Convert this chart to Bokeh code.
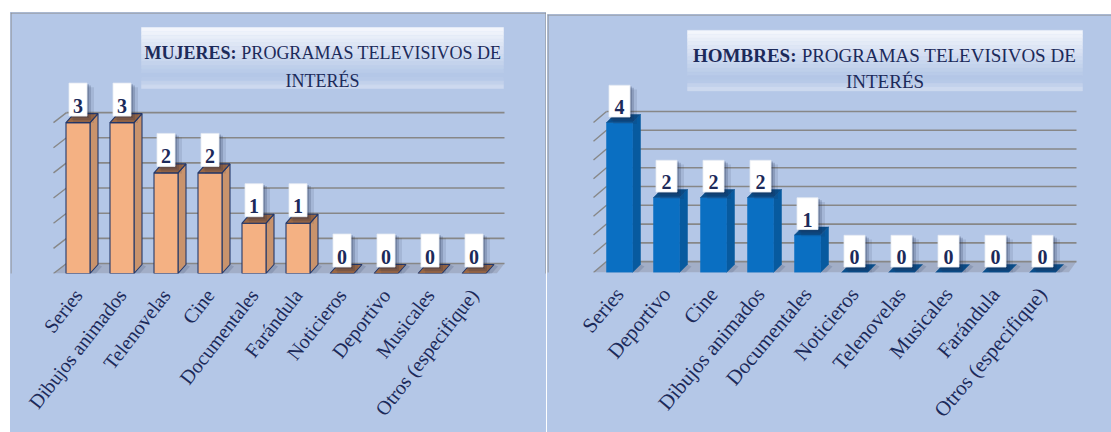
import numpy as np
from bokeh.plotting import figure
from bokeh.layouts import row, column
from bokeh.models import Range1d, FixedTicker, Spacer
from bokeh.core.properties import value
from bokeh.embed import file_html
from bokeh.resources import INLINE

# ---------------- data ----------------
cats_mujeres = ["Series", "Dibujos animados", "Telenovelas", "Cine", "Documentales",
                "Farándula", "Noticieros", "Deportivo", "Musicales", "Otros (especifique)"]
vals_mujeres = [3, 3, 2, 2, 1, 1, 0, 0, 0, 0]
grid_mujeres = [0, 0.5, 1, 1.5, 2, 2.5, 3]

cats_hombres = ["Series", "Deportivo", "Cine", "Dibujos animados", "Documentales",
                "Noticieros", "Telenovelas", "Musicales", "Farándula", "Otros (especifique)"]
vals_hombres = [4, 2, 2, 2, 1, 0, 0, 0, 0, 0]
grid_hombres = [0, 0.5, 1, 1.5, 2, 2.5, 3, 3.5, 4]

title_rest = "PROGRAMAS TELEVISIVOS DE"
title_line2 = "INTERÉS"

# ---------------- style ----------------
BG = "#b4c7e7"
NAVY = "#1c2a5a"
SERIF = "Liberation Serif"

cfg_m = dict(ox=10, oy=12, W=536, H=420, base=273, S=44.0, c0=77.5, ppy=50.3,
             bar_w=24, depth=(8, 9), wall=(13, 10), wall_left=53, wall_right=504,
             box_w=18, box_h=33, digit_off=10.5, right_border=True,
             front="#f4b183", side="#c9936c", top="#9c6844", outline="#22376a",
             tbox=(141, 27, 503, 88), tsplit=236, tcenter=322, tbase=(52, 80), tsize=18,
             title_bold="MUJERES:", lab_size=20, lab_angle=0.91, standoff=12)
cfg_h = dict(ox=547, oy=14, W=564, H=418, base=274, S=47.0, c0=619, ppy=37.8,
             bar_w=26, depth=(8, 8), wall=(13, 11), wall_left=593, wall_right=1076,
             box_w=21, box_h=32, digit_off=10, right_border=False,
             front="#0a6fc2", side="#075a9f", top="#0a4f8c", outline=None,
             tbox=(687, 30, 1082, 91), tsplit=796, tcenter=884.5, tbase=(55, 82), tsize=19,
             title_bold="HOMBRES:", lab_size=21, lab_angle=0.87, standoff=12)


def mix(c1, c2, t):
    a = [int(c1[i:i + 2], 16) for i in (1, 3, 5)]
    b = [int(c2[i:i + 2], 16) for i in (1, 3, 5)]
    return "#%02x%02x%02x" % tuple(int(round(a[k] + (b[k] - a[k]) * t)) for k in range(3))


def panel(cats, vals, grid_vals, c):
    ox, oy, W, H = c["ox"], c["oy"], c["W"], c["H"]
    S, c0, ppy, base = c["S"], c["c0"], c["ppy"], c["base"]

    def X(px):
        return (px - c0) / S

    def Y(py):
        return (base - py) / ppy

    def DX(d):
        return d / S

    def DY(d):
        return d / ppy

    p = figure(width=W, height=H, output_backend="svg", toolbar_location=None,
               x_range=Range1d(X(ox), X(ox + W)), y_range=Range1d(0, Y(oy)),
               min_border_left=0, min_border_right=0, min_border_top=0,
               min_border_bottom=H - (base - oy),
               background_fill_color=BG, border_fill_color=BG, outline_line_color=None,
               styles={"background-color": BG})
    p.grid.visible = False
    p.yaxis.visible = False

    n = len(cats)
    xs = np.arange(n, dtype=float)
    v = np.array(vals, dtype=float)

    # panel border (left, top, right edges)
    bx = [[X(ox + 0.5), X(ox + 0.5)], [X(ox), X(ox + W)]]
    by = [[-5, Y(oy)], [Y(oy + 0.5), Y(oy + 0.5)]]
    if c["right_border"]:
        bx.append([X(ox + W - 0.5), X(ox + W - 0.5)])
        by.append([-5, Y(oy)])
    p.multi_line(xs=bx, ys=by, line_color="#8c8c8c", line_width=1)

    # --- title box with vertical gradient ---
    tx0, ty0, tx1, ty1 = c["tbox"]
    ns = 16
    hs = (ty1 - ty0) / ns
    tops, bots, cols = [], [], []
    for i in range(ns):
        t = i / (ns - 1)
        if t < 0.85:
            col = mix("#f3f6fc", BG, min(1.0, t / 0.8))
        else:
            col = mix(BG, "#cdd9ef", (t - 0.85) / 0.15)
        tops.append(Y(ty0 + i * hs))
        bots.append(Y(ty0 + (i + 1) * hs))
        cols.append(col)
    p.quad(left=[X(tx0)] * ns, right=[X(tx1)] * ns, top=tops, bottom=bots,
           fill_color=cols, line_color=cols, line_width=0.5)

    # title text
    fs = "%dpx" % c["tsize"]
    p.text(x=[X(c["tsplit"])], y=[Y(c["tbase"][0])], text=[c["title_bold"]],
           text_font=value(SERIF), text_font_style="bold", text_font_size=fs,
           text_color=NAVY, text_align="right", text_baseline="alphabetic")
    p.text(x=[X(c["tsplit"] + 0.27 * c["tsize"])], y=[Y(c["tbase"][0])], text=[title_rest],
           text_font=value(SERIF), text_font_size=fs,
           text_color=NAVY, text_align="left", text_baseline="alphabetic")
    p.text(x=[X(c["tcenter"])], y=[Y(c["tbase"][1])], text=[title_line2],
           text_font=value(SERIF), text_font_size=fs,
           text_color=NAVY, text_align="center", text_baseline="alphabetic")

    # --- floor & walls ---
    wdx, wdy = c["wall"]
    wl, wr = c["wall_left"], c["wall_right"]
    p.patch(x=[X(wl), X(wl + wdx), X(wr), X(wr - wdx * 0.6)],
            y=[0, DY(wdy), DY(wdy), 0], fill_color="#a2aec7", line_color=None)
    gl = list(grid_vals)
    p.multi_line(xs=[[X(wl + wdx), X(wr)] for g in gl],
                 ys=[[g + DY(wdy), g + DY(wdy)] for g in gl],
                 line_color="#878787", line_width=1.6)
    p.multi_line(xs=[[X(wl), X(wl + wdx)] for g in gl],
                 ys=[[g, g + DY(wdy)] for g in gl],
                 line_color="#878787", line_width=1.4)

    # --- 3D bars ---
    bw = DX(c["bar_w"])
    dxb, dyb = DX(c["depth"][0]), DY(c["depth"][1])
    left = xs - bw / 2
    right = xs + bw / 2
    lc = c["outline"]
    pos = v > 0
    p.patches(xs=[[r, r + dxb, r + dxb + DX(4), r + DX(4)] for r in right],
              ys=[[0, dyb, dyb - DY(2), -DY(2)] for _ in right],
              fill_color="#1a2a50", fill_alpha=0.15, line_color=None)
    p.patches(xs=[[r, r + dxb, r + dxb, r] for r in right[pos]],
              ys=[[0, dyb, vv + dyb, vv] for vv in v[pos]],
              fill_color=c["side"], line_color=lc if lc else c["side"], line_width=1.1 if lc else 0.5)
    p.quad(left=left[pos], right=right[pos], bottom=0, top=v[pos],
           fill_color=c["front"], line_color=lc if lc else c["front"], line_width=1.1 if lc else 0.5)
    p.patches(xs=[[l, r, r + dxb, l + dxb] for l, r in zip(left, right)],
              ys=[[vv, vv, vv + dyb, vv + dyb] for vv in v],
              fill_color=c["top"], line_color=lc if lc else c["top"], line_width=1.1 if lc else 0.5)

    # --- value label boxes ---
    bhw = DX(c["box_w"] / 2)
    bb = v + dyb - DY(2.5)
    bt = bb + DY(c["box_h"])
    for k, a in ((7, 0.10), (4, 0.18), (2, 0.22)):
        p.quad(left=xs - bhw + DX(k * 0.6), right=xs + bhw + DX(k), bottom=bb - DY(k), top=bt - DY(k * 0.6),
               fill_color="#1b2747", fill_alpha=a, line_color=None)
    p.quad(left=xs - bhw, right=xs + bhw, bottom=bb, top=bt,
           fill_color="white", line_color="#e6ebf3", line_width=0.8)
    p.text(x=xs, y=bb + DY(c["digit_off"]), text=[str(int(t)) for t in vals],
           text_font=value(SERIF), text_font_style="bold", text_font_size="20px",
           text_color=NAVY, text_align="center", text_baseline="alphabetic")

    # --- category axis ---
    ax = p.xaxis[0]
    ax.ticker = FixedTicker(ticks=list(range(n)))
    ax.major_label_overrides = {i: cat for i, cat in enumerate(cats)}
    ax.axis_line_color = None
    ax.major_tick_line_color = None
    ax.minor_tick_line_color = None
    ax.major_label_orientation = c["lab_angle"]
    ax.major_label_standoff = c["standoff"]
    ax.major_label_text_font = SERIF
    ax.major_label_text_font_size = "%dpx" % c["lab_size"]
    ax.major_label_text_color = NAVY
    return p


p1 = panel(cats_mujeres, vals_mujeres, grid_mujeres, cfg_m)
p2 = panel(cats_hombres, vals_hombres, grid_hombres, cfg_h)
layout = column(
    Spacer(width=10, height=cfg_m["oy"]),
    row(Spacer(width=cfg_m["ox"], height=10),
        p1,
        Spacer(width=cfg_h["ox"] - cfg_m["ox"] - cfg_m["W"], height=10),
        column(Spacer(width=10, height=cfg_h["oy"] - cfg_m["oy"]), p2)),
)

open("out.html", "w").write(file_html(layout, INLINE))
